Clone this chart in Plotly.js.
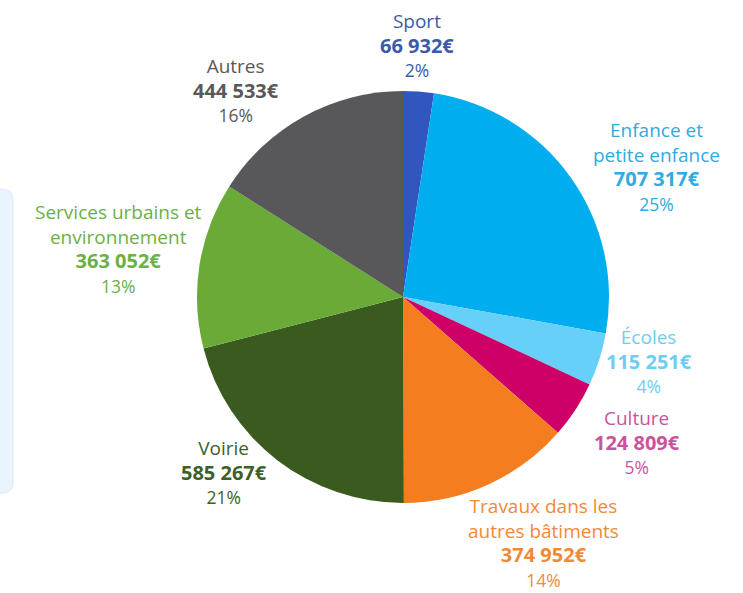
<!DOCTYPE html>
<html><head><meta charset="utf-8">
<script src="https://cdn.plot.ly/plotly-3.0.1.min.js"></script>
<style>html,body{margin:0;padding:0;background:#fff}#chart{width:743px;height:593px}</style>
</head><body><div id="chart"></div>
<script>
const labelsL1 = ["Sport", "Enfance et<br>petite enfance", "Écoles", "Culture", "Travaux dans les<br>autres bâtiments", "Voirie", "Services urbains et<br>environnement", "Autres"];
const categories = ["Sport", "Enfance et petite enfance", "Écoles", "Culture", "Travaux dans les autres bâtiments", "Voirie", "Services urbains et environnement", "Autres"];
const amounts = [66932, 707317, 115251, 124809, 374952, 585267, 363052, 444533];
const amountLabels = ["66 932€", "707 317€", "115 251€", "124 809€", "374 952€", "585 267€", "363 052€", "444 533€"];
const percentLabels = ["2%", "25%", "4%", "5%", "14%", "21%", "13%", "16%"];
const sliceColors = ["#3256c0", "#00aeef", "#66d0f8", "#cc0066", "#f47d20", "#3a5a1f", "#6aaa36", "#58585b"];
const textColors = ["#3a5ba8", "#2eabe2", "#6dcdf3", "#c8559c", "#f08a35", "#3e5f28", "#6bb143", "#595959"];
// label block centres (pixels)
const labelPos = [[417,45],[656,167],[649,361],[637,442],[543,542],[224,472],[118,249],[236,90]];

const W = 743, H = 593;
const annotations = categories.map((c, i) => ({
  xref: 'paper', yref: 'paper',
  x: labelPos[i][0] / W, y: 1 - labelPos[i][1] / H,
  xanchor: 'center', yanchor: 'middle', showarrow: false, align: 'center', borderpad: 0,
  text: labelsL1[i] + '<br><b><span style="font-size:20px">' + amountLabels[i] + '</span></b><br><span style="font-size:17.5px">' + percentLabels[i] + '</span>',
  font: {family: 'Open Sans, Noto Sans, sans-serif', size: 19, color: textColors[i]}
}));

const cx = 403, cy = 297, r = 206;
const data = [{
  type: 'pie',
  labels: categories,
  values: amounts,
  sort: false,
  direction: 'clockwise',
  rotation: 0,
  textinfo: 'none',
  hoverinfo: 'label+value+percent',
  marker: {colors: sliceColors, line: {width: 0}},
  domain: {x: [(cx - r) / W, (cx + r) / W], y: [(H - cy - r) / H, (H - cy + r) / H]},
  showlegend: false
}];

// rounded panel at left edge
const x0 = -20 / W, x1 = 13 / W, y0 = 1 - 493 / H, y1 = 1 - 189 / H;
const rx = 11 / W, ry = 11 / H;
const panel = `M ${x0} ${y1} L ${x1 - rx} ${y1} Q ${x1} ${y1} ${x1} ${y1 - ry} L ${x1} ${y0 + ry} Q ${x1} ${y0} ${x1 - rx} ${y0} L ${x0} ${y0} Z`;

const layout = {
  width: W, height: H,
  margin: {l: 0, r: 0, t: 0, b: 0},
  paper_bgcolor: '#ffffff',
  annotations: annotations,
  shapes: [{type: 'path', xref: 'paper', yref: 'paper', path: panel, fillcolor: '#eaf4fd', line: {color: '#dcebf9', width: 1}, layer: 'below'}]
};
Plotly.newPlot('chart', data, layout, {displayModeBar: false, staticPlot: true});
</script></body></html>
